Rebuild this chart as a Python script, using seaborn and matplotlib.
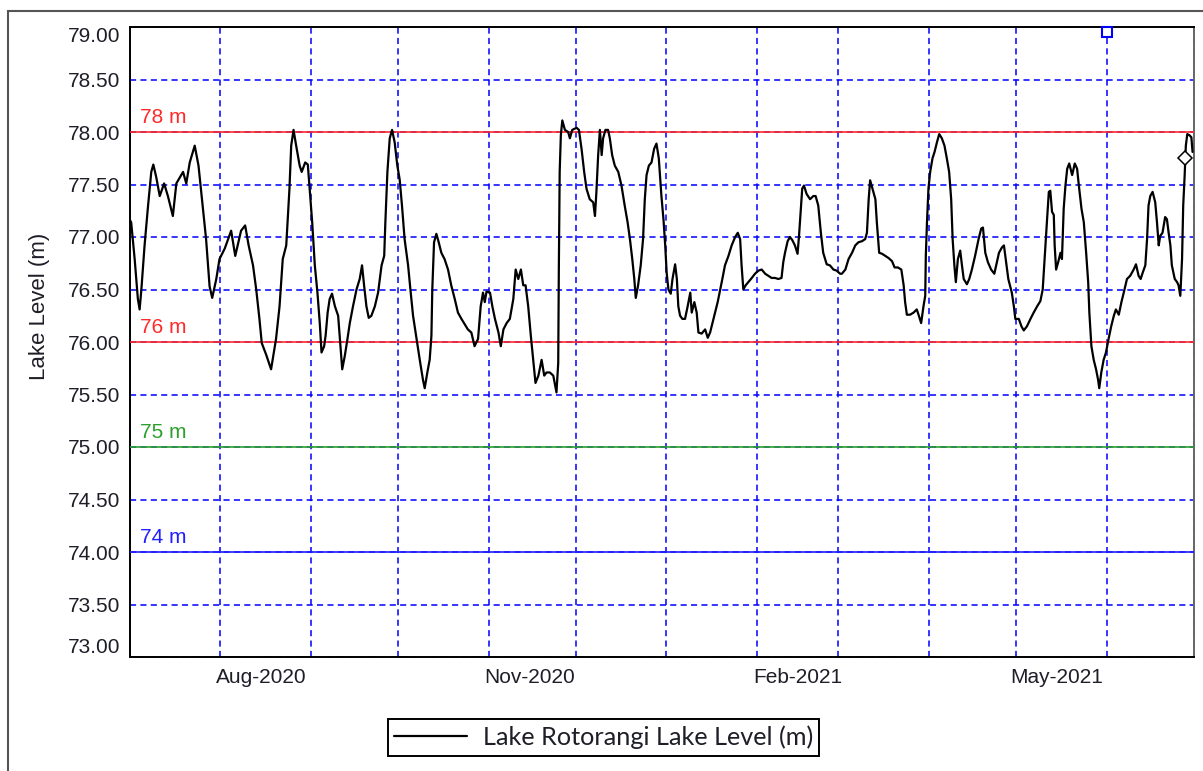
import numpy as np
import pandas as pd
import matplotlib
matplotlib.use("Agg")
import matplotlib.pyplot as plt
import matplotlib.dates as mdates
from matplotlib.patches import Rectangle
import seaborn as sns

# ---------------- data ----------------
start_date = "2020-07-01"
end_date = "2021-07-01"

day_offset = [
    0.0, 0.4, 1.6, 2.7, 3.3, 3.9, 5.0, 6.2, 7.3, 8.0, 9.0, 10.2, 11.7, 13.0, 14.7, 15.9,
    18.2, 19.3, 20.5, 22.2, 23.5, 24.7, 26.1, 27.3, 28.2, 29.6, 30.7, 32.5, 34.7, 36.1,
    38.1, 39.5, 40.7, 42.2, 43.3, 44.4, 45.2, 46.7, 48.4, 50.1, 51.3, 52.4, 53.6, 54.7,
    55.3, 56.1, 57.0, 58.2, 58.9, 60.1, 61.0,
    61.7, 62.5, 63.4, 64.3, 65.1, 65.7, 66.6, 67.1, 67.8, 68.5, 69.3, 70.3, 71.4, 72.0,
    72.8, 73.7, 74.6, 75.4, 76.5, 77.7, 78.8, 79.6, 80.3, 81.1, 81.9, 82.8, 84.0, 85.1,
    86.3, 87.2, 87.6, 88.3, 89.1, 89.9, 90.8, 91.7, 92.5, 93.3, 94.2, 95.4, 96.3, 97.1,
    98.3, 99.4, 100.5, 101.1, 102.0, 102.8, 103.4, 103.7, 104.3, 105.1, 105.9, 106.8,
    107.9, 109.1, 110.2, 111.4, 112.5, 113.7, 114.8, 115.9, 117.1, 118.2, 119.4, 120.3,
    121.1, 121.7, 122.3,
    123.5, 124.3, 125.2, 126.4, 127.2, 128.1, 129.2, 130.3, 131.5, 132.3, 133.2, 134.1,
    134.9, 135.7, 136.6, 137.5, 138.3, 139.1, 140.1, 141.2, 142.1, 142.9, 144.0, 145.2,
    146.3, 146.9, 147.1, 147.4, 147.8, 148.3, 149.2, 150.3, 150.9, 151.7, 153.2, 154.0,
    154.9, 155.8, 156.6, 157.7, 158.9, 159.5, 160.0, 160.6, 161.2, 161.8, 162.3, 163.1,
    164.0, 164.6, 165.4, 166.3, 167.5, 168.6, 169.7, 170.7, 171.5, 172.3, 173.0, 173.5,
    174.3, 175.2, 176.0, 176.6, 177.2, 178.0, 178.9, 179.8, 180.6, 181.4, 182.3,
    183.0, 183.6, 184.1, 184.7, 185.5, 186.1, 187.0, 187.6, 188.1, 188.7, 189.5, 190.4,
    191.3, 192.2, 192.7, 193.6, 194.4, 195.0, 196.1, 197.3, 198.2, 199.0, 199.8, 200.7,
    201.6, 202.4, 203.2, 204.1, 205.3, 206.4, 207.6, 208.5, 209.3, 209.8, 210.4, 211.2,
    212.1, 213.3, 214.4, 215.6, 216.7, 217.9, 219.0, 220.1, 221.3, 222.4, 223.5, 224.1,
    224.7, 225.6, 226.4, 227.2, 228.1, 229.0, 229.5, 230.2, 230.6, 231.2, 232.1, 233.3,
    234.4, 235.2, 236.1, 237.0, 237.8, 239.0, 240.1, 241.3, 242.4, 243.6,
    244.2, 245.4, 246.5, 247.7, 248.8, 249.9, 251.1, 252.2, 252.8, 253.4, 253.9, 254.7,
    255.7, 256.2, 257.0, 258.0, 259.1, 260.2, 261.4, 262.3, 263.4, 264.6, 265.4, 265.9,
    266.5, 267.6, 268.8, 269.9, 270.5, 271.4, 272.2, 272.8, 273.0, 273.4, 273.9, 274.5,
    275.3, 276.0, 276.8, 277.6, 278.5, 279.4, 280.2, 281.0, 281.7, 282.2, 282.8, 283.3,
    284.0, 284.8, 285.4, 286.0, 287.1, 287.9, 288.8, 289.9, 291.1, 292.0, 292.6, 293.4,
    294.3, 295.4, 296.5, 297.4, 298.1, 299.1, 299.8, 300.4, 301.3, 302.5,
    303.2, 303.7, 304.9, 305.8, 306.6, 307.7, 308.9, 310.0, 311.2, 312.3, 313.1, 313.8,
    314.6, 315.2, 315.7, 316.3, 316.9, 317.2, 317.7, 318.4, 319.2, 319.7, 320.3, 320.9,
    321.5, 322.2, 323.2, 324.1, 324.9, 325.5, 326.4, 327.2, 328.0, 328.7, 329.1, 329.8,
    330.6, 331.4, 332.1, 332.5, 333.2, 334.0, 334.8, 335.7, 336.6, 337.5, 338.2, 339.2,
    340.1, 340.9, 342.0, 343.1, 344.3, 345.1, 346.0, 346.7, 347.4, 348.3, 348.9, 349.4,
    350.0, 350.8, 351.7, 352.3, 352.9, 353.4, 354.2, 355.1, 355.7, 356.3, 356.9, 357.4,
    358.4, 359.2, 359.7, 360.3, 360.9, 361.3, 361.8, 362.2, 362.7, 363.4, 364.1, 364.5,
]

lake_level = [
    77.16, 77.14, 76.79, 76.41, 76.31, 76.50, 76.92, 77.30, 77.62, 77.69, 77.57, 77.39, 77.51, 77.39, 77.20, 77.51,
    77.62, 77.51, 77.71, 77.87, 77.68, 77.36, 76.98, 76.53, 76.42, 76.60, 76.79, 76.89, 77.06, 76.82,
    77.06, 77.11, 76.92, 76.73, 76.50, 76.22, 75.99, 75.88, 75.74, 76.03, 76.34, 76.79, 76.92, 77.46,
    77.87, 78.02, 77.87, 77.68, 77.62, 77.71, 77.69,
    77.43, 77.14, 76.73, 76.47, 76.18, 75.90, 75.96, 76.06, 76.28, 76.41, 76.46, 76.34, 76.25, 76.03,
    75.74, 75.87, 76.03, 76.18, 76.34, 76.50, 76.60, 76.73, 76.54, 76.34, 76.23, 76.25, 76.34, 76.47,
    76.73, 76.82, 77.14, 77.62, 77.94, 78.02, 77.90, 77.68, 77.55, 77.30, 76.98, 76.73, 76.47, 76.25,
    76.03, 75.83, 75.64, 75.56, 75.71, 75.83, 76.06, 76.50, 76.95, 77.03, 76.95, 76.85,
    76.79, 76.69, 76.54, 76.41, 76.28, 76.22, 76.17, 76.12, 76.09, 75.96, 76.03, 76.34,
    76.47, 76.38, 76.48,
    76.47, 76.34, 76.22, 76.09, 75.96, 76.12, 76.18, 76.22, 76.41, 76.69, 76.60, 76.69,
    76.54, 76.54, 76.34, 76.06, 75.83, 75.61, 75.68, 75.83, 75.68, 75.71, 75.71, 75.68,
    75.52, 75.80, 76.66, 77.62, 77.97, 78.11, 78.02, 78.00, 77.94, 78.02, 78.04, 78.02,
    77.84, 77.62, 77.46, 77.36, 77.33, 77.20, 77.43, 77.78, 78.02, 77.78, 77.94, 78.02,
    78.02, 77.94, 77.78, 77.68, 77.62, 77.49, 77.30, 77.14, 76.98, 76.79, 76.60, 76.42,
    76.54, 76.73, 76.98, 77.36, 77.59, 77.68, 77.71, 77.84, 77.89, 77.75, 77.39,
    77.17, 76.92, 76.66, 76.50, 76.46, 76.60, 76.74, 76.60, 76.34, 76.25, 76.22, 76.22,
    76.34, 76.47, 76.28, 76.38, 76.28, 76.09, 76.08, 76.12, 76.04, 76.09, 76.18, 76.28,
    76.38, 76.49, 76.60, 76.73, 76.82, 76.92, 77.00, 77.04, 76.98, 76.73, 76.50, 76.54,
    76.57, 76.61, 76.65, 76.68, 76.69, 76.65, 76.63, 76.61, 76.61, 76.60, 76.61, 76.76,
    76.85, 76.96, 77.00, 76.97, 76.92, 76.84, 77.01, 77.30, 77.46, 77.49, 77.41, 77.36,
    77.39, 77.39, 77.30, 77.04, 76.85, 76.74, 76.73, 76.69, 76.68, 76.65,
    76.65, 76.69, 76.79, 76.85, 76.92, 76.95, 76.96, 76.98, 77.04, 77.36, 77.54, 77.46,
    77.36, 77.14, 76.85, 76.84, 76.82, 76.80, 76.77, 76.71, 76.71, 76.69, 76.54, 76.38,
    76.26, 76.26, 76.28, 76.31, 76.26, 76.18, 76.34, 76.44, 76.82, 77.14, 77.46, 77.62,
    77.75, 77.81, 77.90, 77.98, 77.94, 77.87, 77.75, 77.62, 77.36, 76.98, 76.73, 76.57,
    76.79, 76.87, 76.73, 76.60, 76.55, 76.60, 76.69, 76.82, 76.98, 77.08, 77.09, 76.85,
    76.76, 76.69, 76.65, 76.76, 76.85, 76.90, 76.92, 76.79, 76.60, 76.47,
    76.34, 76.22, 76.22, 76.15, 76.11, 76.15, 76.22, 76.28, 76.34, 76.39, 76.50, 76.82,
    77.17, 77.43, 77.44, 77.24, 77.21, 76.92, 76.69, 76.76, 76.85, 76.79, 77.27, 77.49,
    77.65, 77.70, 77.59, 77.70, 77.65, 77.49, 77.27, 77.14, 76.85, 76.57, 76.28, 75.96,
    75.83, 75.74, 75.64, 75.56, 75.71, 75.83, 75.90, 76.03, 76.15, 76.25, 76.31, 76.26,
    76.38, 76.47, 76.60, 76.63, 76.69, 76.74, 76.63, 76.60, 76.66, 76.73, 76.98, 77.30,
    77.39, 77.43, 77.33, 77.14, 76.92, 77.01, 77.04, 77.19, 77.17, 77.04, 76.92, 76.73,
    76.60, 76.57, 76.54, 76.44, 76.79, 77.30, 77.59, 77.87, 77.98, 77.97, 77.95, 77.81,
]

series_name = "Lake Rotorangi Lake Level (m)"

threshold_levels = [78.0, 76.0, 75.0, 74.0]
threshold_labels = ["78 m", "76 m", "75 m", "74 m"]
threshold_colors = ["#ff2a2a", "#ff2a2a", "#2ca02c", "#1f1fff"]

square_marker_day = [335.0]
square_marker_level = [78.95]
diamond_marker_day = [361.8]
diamond_marker_level = [77.75]

y_ticks = [73.0, 73.5, 74.0, 74.5, 75.0, 75.5, 76.0, 76.5, 77.0, 77.5, 78.0, 78.5, 79.0]
x_label_months = [8, 11, 2, 5]

# ---------------- build ----------------
t0 = pd.Timestamp(start_date)
df = pd.DataFrame({
    "date": t0 + pd.to_timedelta(day_offset, unit="D"),
    "level": lake_level,
})

sns.set_theme(style="white")
plt.rcParams["font.family"] = ["Liberation Sans", "DejaVu Sans"]

W, H = 1203, 771
fig = plt.figure(figsize=(W / 100, H / 100), dpi=100)
ax = fig.add_axes([130 / W, 1 - 657 / H, (1194 - 130) / W, (657 - 27) / H])

# outer frame
fig.patches.append(Rectangle((8 / W, -0.2), 1.5, (1 - 11 / H) + 0.2,
                             transform=fig.transFigure, fill=False,
                             edgecolor="#555555", linewidth=1.5, clip_on=False))

sns.lineplot(data=df, x="date", y="level", ax=ax, color="black", linewidth=1.6,
             label=series_name, zorder=5, estimator=None, sort=False)

# threshold lines & labels
for lvl, lab, col in zip(threshold_levels, threshold_labels, threshold_colors):
    ax.axhline(lvl, color=col, linewidth=1.2, zorder=3)
    ax.text(0.009, lvl + 0.045, lab, transform=ax.get_yaxis_transform(), color=col,
            fontsize=15, va="bottom", ha="left", zorder=4)

# markers
sq_dates = t0 + pd.to_timedelta(square_marker_day, unit="D")
dm_dates = t0 + pd.to_timedelta(diamond_marker_day, unit="D")
ax.plot(sq_dates, square_marker_level, linestyle="none", marker="s", markersize=7,
        markerfacecolor="white", markeredgecolor="#0000ff", markeredgewidth=1.5,
        zorder=6, clip_on=False)
ax.plot(dm_dates, diamond_marker_level, linestyle="none", marker="D", markersize=7,
        markerfacecolor="white", markeredgecolor="black", markeredgewidth=1.1, zorder=6)

# axes
ax.set_xlim(pd.Timestamp(start_date), pd.Timestamp(end_date))
ax.set_ylim(73.0, 79.0)
ax.set_yticks(y_ticks)
ax.set_yticklabels([f"{v:.2f}" for v in y_ticks])
ax.xaxis.set_minor_locator(mdates.MonthLocator())
ax.xaxis.set_major_locator(mdates.MonthLocator(bymonth=x_label_months, bymonthday=15))
ax.xaxis.set_major_formatter(mdates.DateFormatter("%b-%Y"))
ax.tick_params(axis="both", which="both", length=0, labelsize=15, colors="#1e1e28")
ax.tick_params(axis="y", pad=7)
ax.tick_params(axis="x", pad=8)

grid_kw = dict(color="#0000ff", linewidth=1.1, linestyle=(0, (4.0, 2.8)))
ax.grid(False)
ax.xaxis.grid(True, which="minor", **grid_kw)
ax.yaxis.grid(True, which="major", **grid_kw)
ax.set_axisbelow(True)

ax.set_xlabel("")
ax.set_ylabel("")
fig.text(40 / W, 1 - 306 / H, "Lake Level (m)", rotation=90, va="center", ha="center",
         fontsize=16, color="#1e1e28")

for sp in ax.spines.values():
    sp.set_color("black")
    sp.set_linewidth(1.4)
ax.spines["right"].set_color("#666666")

# shift end tick labels inside
fig.canvas.draw()
labels = ax.get_yticklabels()
labels[0].set_va("bottom")
labels[-1].set_va("top")

leg = ax.legend(loc="center", bbox_to_anchor=(603.5 / W, 1 - 737.5 / H),
                bbox_transform=fig.transFigure, frameon=True, fancybox=False,
                edgecolor="black", framealpha=1, handlelength=2.9, borderpad=0.25,
                handletextpad=0.6, prop={"family": "Lato", "size": 18.2})
leg.get_frame().set_linewidth(1.4)
for t in leg.get_texts():
    t.set_color("#1e1e28")

fig.savefig("out.png", dpi=100)
